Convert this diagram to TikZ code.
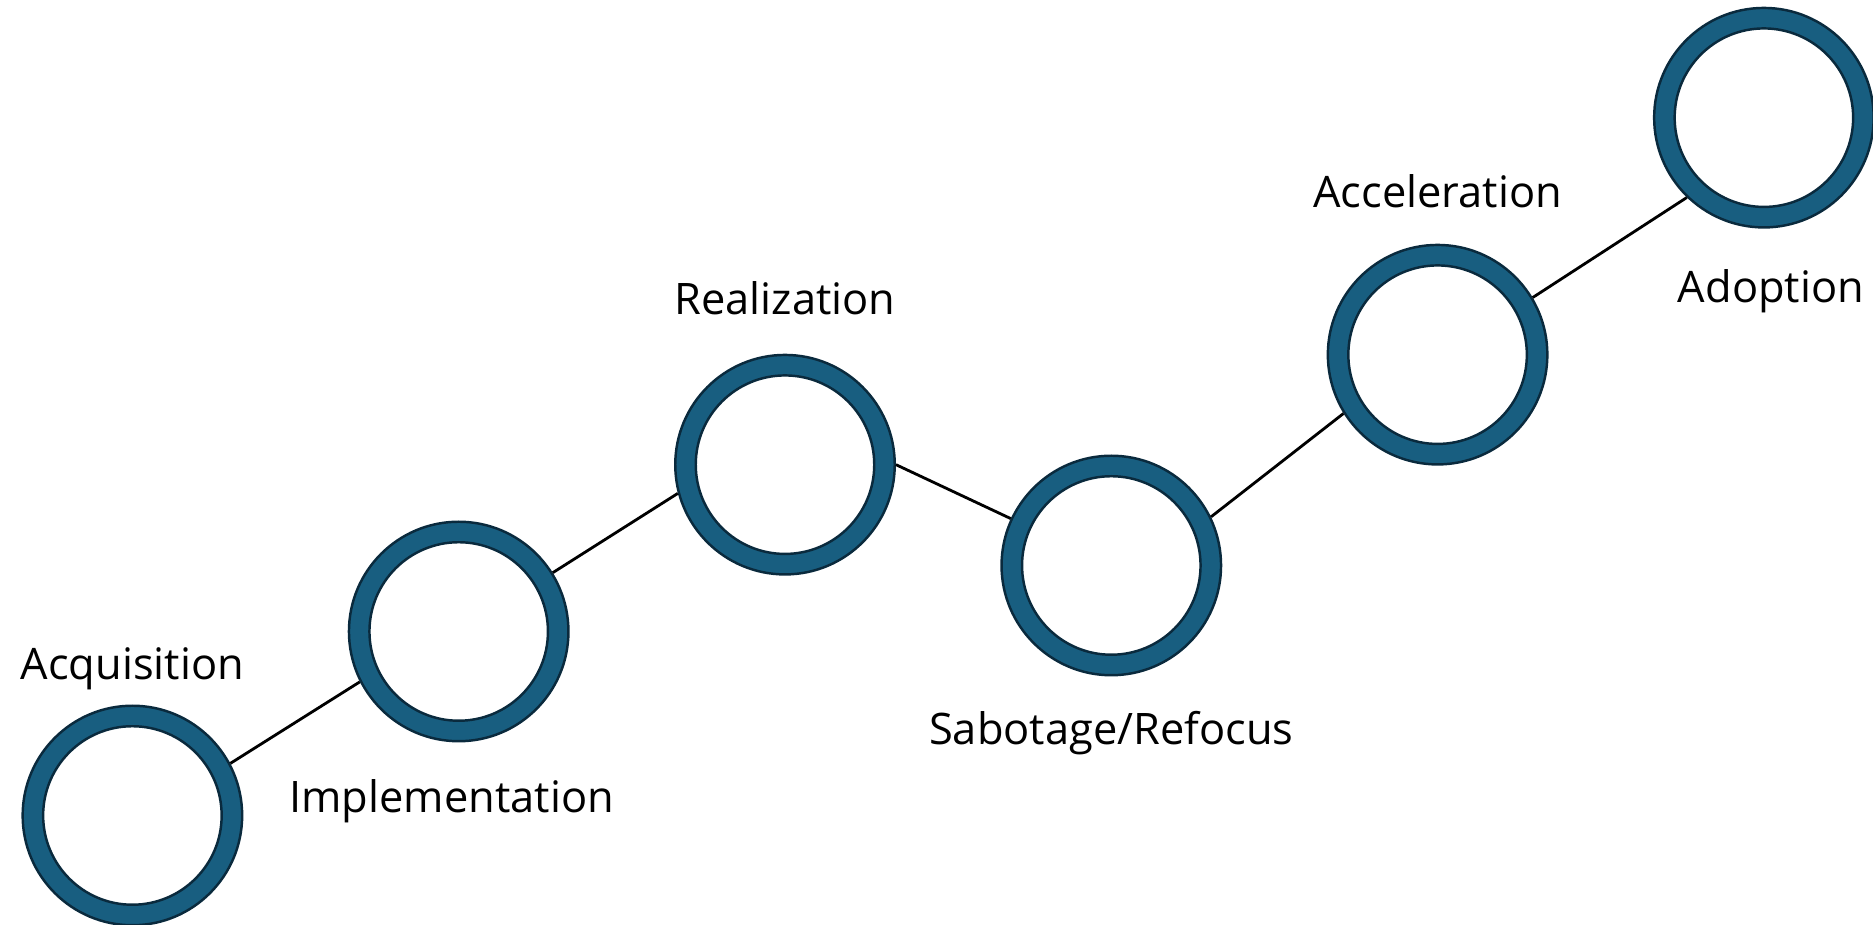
\documentclass[tikz,border=0pt]{standalone}
\usepackage{fontspec}
\setmainfont{Open Sans}
\usepackage{tikz}
\definecolor{ringblue}{RGB}{24,94,128}
\definecolor{ringdark}{RGB}{10,42,61}

\begin{document}
\begin{tikzpicture}[
		ring/.style={circle, draw=ringdark, fill=ringblue, line width=0.7pt,
			minimum size=2.195cm, inner sep=0pt,
			path picture={\draw[ringdark, fill=white, line width=0.7pt]
				(path picture bounding box.center) circle (0.8925cm);}},
		lbl/.style={font=\fontsize{12.35pt}{14pt}\selectfont, inner sep=0pt, anchor=base},
		link/.style={line width=0.8pt, black}]
	\useasboundingbox (0,0) rectangle (18.73,9.25);
	%% define stages
	\node (acq) at (1.324,1.095) [ring, label={[lbl,label distance=0.25cm] above:Acquisition}] {};
	\node (imp) at (4.587,2.935) [ring, label={[lbl,label distance=0.70cm,xshift=-2pt] below:Implementation}] {};
	\node (rea) at (7.850,4.603) [ring, label={[lbl,label distance=0.39cm] above:Realization}] {};
	\node (sab) at (11.113,3.595) [ring, label={[lbl,label distance=0.68cm] below:Sabotage/Refocus}] {};
	\node (acc) at (14.376,5.703) [ring, label={[lbl,label distance=0.36cm] above:Acceleration}] {};
	\node (ado) at (17.639,8.073) [ring, label={[lbl,label distance=0.74cm,xshift=2pt] below:Adoption}] {};
	%% define links
	\draw[link] (acq.28) -- (imp.207);
	\draw[link] (imp.32) -- (rea.195);
	\draw[link] (rea.0) -- (sab.155);
	\draw[link] (sab.26) -- (acc.212);
	\draw[link] (acc.31) -- (ado.226);
\end{tikzpicture}
\end{document}
